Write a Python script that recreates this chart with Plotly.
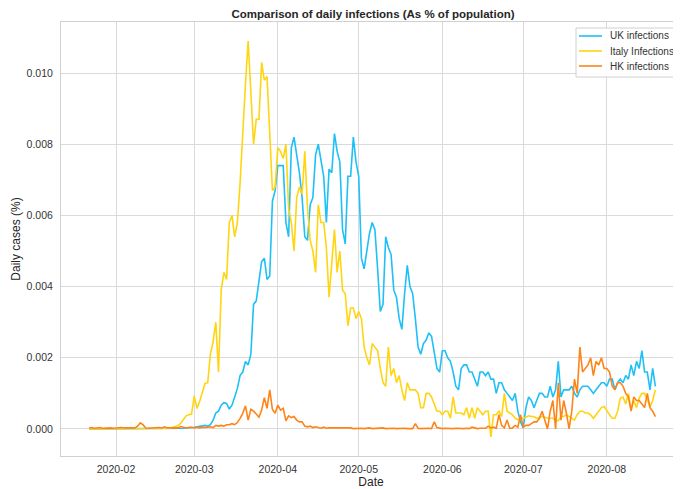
import pandas as pd
import plotly.graph_objects as go

# Daily new cases as % of population, one value per day from 2020-01-22
start_date = "2020-01-22"

uk_cases = [
    # Jan 22 - Feb 29
    0, 0, 0, 0, 0, 0, 0, 0, 0, 0,
    0, 0, 0, 0, 0, 0, 0, 0, 0, 0,
    0, 0, 0, 0, 0, 0, 0, 0, 0,
    0.0, 0.0, 0.00001, 0.00001, 0.00001, 0.00002,
    0.00002, 0.00003, 0.00003, 0.00004,
    # Mar
    0.00005, 0.00006, 0.00007, 0.00008, 0.0001, 0.00008, 0.00012, 0.00025, 0.00045, 0.0005, 0.00067,
    0.00074, 0.00072, 0.00056, 0.00067, 0.0009, 0.00114, 0.0015, 0.0016, 0.0019, 0.0018, 0.0021,
    0.0035, 0.0036, 0.0041, 0.0047, 0.0048, 0.0042, 0.0043, 0.0064, 0.0067, 0.0074,
    # Apr
    0.0074, 0.0074, 0.0058, 0.0054, 0.0079, 0.0082, 0.0077, 0.0072, 0.0065, 0.0054,
    0.0053, 0.0063, 0.0065, 0.0077, 0.008, 0.0076, 0.0071, 0.0058, 0.0073, 0.0072,
    0.0083, 0.0078, 0.0075, 0.0056, 0.0052, 0.0071, 0.0071, 0.0082, 0.0075, 0.0071,
    # May
    0.0048, 0.0045, 0.005, 0.0055, 0.0058, 0.0056, 0.0045, 0.0033, 0.0035, 0.0054,
    0.0051, 0.0049, 0.0039, 0.0037, 0.0031, 0.0028, 0.0038, 0.0046, 0.004, 0.0038,
    0.0031, 0.0023, 0.0021, 0.0024, 0.0025, 0.0027, 0.0026, 0.0022, 0.0017, 0.0016,
    # Jun
    0.0022, 0.0022, 0.002, 0.0019, 0.0016, 0.0012, 0.0011, 0.0017, 0.0018, 0.0018,
    0.0016, 0.0016, 0.0014, 0.0012, 0.0016, 0.0016, 0.0015, 0.0016, 0.0014, 0.0014,
    0.001, 0.0013, 0.0013, 0.0011, 0.001, 0.0009, 0.0008, 0.001, 0.0005, 0.0002,
    # Jul
    0.00003, 0.0006, 0.0009, 0.0008, 0.0006, 0.0008, 0.001, 0.001, 0.0009, 0.0009,
    0.0012, 0.0009, 0.0011, 0.0019, 0.0009, 0.0011, 0.0011, 0.0011, 0.0012, 0.001,
    0.0009, 0.0011, 0.0012, 0.0012, 0.0012, 0.0011, 0.001, 0.0011, 0.0012, 0.0013,
    # Aug 1 - 19
    0.0013, 0.0012, 0.0014, 0.0014, 0.0011, 0.0013, 0.0014, 0.0013, 0.0015, 0.0014,
    0.0018, 0.0015, 0.0019, 0.0017, 0.0022, 0.0016, 0.0016, 0.0011, 0.0017, 0.0012,
]

italy_cases = [
    # Jan 22 - Feb 29
    0, 0, 0, 0, 0, 0, 0, 0, 0, 0,
    0, 0, 0, 0, 0, 0, 0, 0, 0, 0,
    0, 0, 0, 0, 0, 0, 0, 0, 0, 0,
    0.00002, 0.00005, 0.00008, 0.0001, 0.00016, 0.00025, 0.00037, 0.0004, 0.00042,
    # Mar
    0.00093, 0.00058, 0.00077, 0.001, 0.00128, 0.0013, 0.0021, 0.00245, 0.003, 0.0016, 0.0039,
    0.0044, 0.0042, 0.0058, 0.006, 0.0054, 0.0058, 0.0069, 0.0084, 0.0097, 0.0109, 0.0093,
    0.008, 0.0087, 0.0087, 0.0103, 0.0098, 0.0099, 0.0084, 0.0067, 0.0068, 0.0079,
    # Apr
    0.0078, 0.0076, 0.008, 0.0062, 0.0058, 0.005, 0.0065, 0.0068, 0.0066, 0.0078,
    0.0062, 0.0053, 0.005, 0.0044, 0.0063, 0.0058, 0.0058, 0.0051, 0.0037, 0.0047,
    0.0056, 0.0044, 0.005, 0.0039, 0.0038, 0.0029, 0.0034, 0.0034, 0.0031, 0.0033,
    # May
    0.0031, 0.0023, 0.002, 0.0018, 0.0024, 0.0023, 0.0022, 0.0017, 0.0013, 0.0012,
    0.0023, 0.0015, 0.0017, 0.0013, 0.0015, 0.0011, 0.0008, 0.0013, 0.0011, 0.0011,
    0.0011, 0.001, 0.0006, 0.0006, 0.001, 0.001, 0.0009, 0.0007, 0.0005, 0.0005,
    # Jun
    0.0004, 0.0005, 0.0005, 0.0003, 0.0009, 0.00045, 0.00045, 0.00045, 0.0004, 0.0006,
    0.0003, 0.0006, 0.0003, 0.0006, 0.0005, 0.0004, 0.0005, 0.0005, -0.00022, 0.0004,
    0.0004, 0.0005, 0.00035, 0.001, 0.0005, 0.00045, 0.0004, 0.0003, 0.00026, 0.0003,
    # Jul
    0.0003, 0.00033, 0.00037, 0.00035, 0.00035, 0.0003, 0.00033, 0.00035, 0.00033, 0.0003,
    0.0003, 0.0003, 0.00025, 0.00023, 0.00035, 0.00035, 0.0004, 0.00035, 0.0003, 0.00025,
    0.0004, 0.0005, 0.0005, 0.00045, 0.00045, 0.0004, 0.0003, 0.0004, 0.0005, 0.0006,
    0.00063,
    # Aug 2 - 19
    0.0005, 0.0004, 0.0003, 0.0003, 0.0005, 0.00087, 0.0009, 0.0007, 0.001,
    0.00054, 0.0008, 0.0006, 0.00087, 0.001, 0.001, 0.0008, 0.00063, 0.0008, 0.0011,
]

hk_cases = [
    # Jan 22 - Feb 29
    0.00003, 0.00004, 0.00002, 0.00003, 0.00004, 0.00002, 0.00003, 0.00004, 0.00003, 0.00002,
    0.00003, 0.00002, 0.00004, 0.00003, 0.00003, 0.00005, 0.00004, 0.00003, 0.00008, 0.00017,
    0.00012, 0.00003, 0.00002, 0.00003, 0.00004, 0.00003, 0.00004, 0.00003, 0.00006, 0.00003,
    0.00003, 0.00004, 0.00002, 0.00003, 0.00007, 0.00004, 0.00003, 0.00004, 0.00005,
    # Mar
    0.00003, 0.00005, 0.00003, 0.00005, 0.00004, 0.00005, 0.00006, 0.00004, 0.0001, 0.00008,
    0.0001, 0.00008, 0.00012, 0.00012, 0.00015, 0.00012, 0.00018,
    0.0003, 0.00044, 0.00065, 0.00025, 0.00055, 0.0005, 0.00042, 0.00033, 0.00053, 0.00088,
    0.00058, 0.0011, 0.00055, 0.00044,
    # Apr
    0.00067, 0.00053, 0.00058, 0.00023, 0.00037, 0.00032,
    0.00035, 0.00025, 0.0002, 0.0002, 0.00008, 0.00006, 0.00008, 0.00004, 0.00006, 0.00005,
    0.00002, 0.00005, 0.00002, 0.00003, 0.00003, 0.00002, 0.00004, 0.00002, 0.00003, 0.00002,
    0.00002, 0.00003, 0.00001, 0.00002,
    # May
    0.00001, 0.00002, 0.00001, 0.00002, 0.00003, 0.00001,
    0.00002, 0.00001, 0.00002, 0.00003, 0.00001, 0.00002, 0.00001, 0.00002, 0.00001, 0.00002,
    0.00001, 0.00002, 0.00001, 0.00002, 0.00001, 0.00015, 0.00002, 0.00001, 0.00002, 0.00001,
    0.00002, 0.00001, 0.0002, 0.00004, 0.00002,
    # Jun
    0.00001, 0.00002, 0.00001, 0.00002, 0.00001,
    0.00002, 0.00001, 0.00002, 0.00001, 0.00002, 0.00001, 0.00005, 0.00002, 0.00001, 0.00002,
    0.00001, 0.00002, 0.00008, 0.00003, 0.00005, 0.00002, 0.0004, 0.0001, 0.00003, 0.00025,
    0.00002, 0.00003, 0.0001, 0.00005, 0.0004,
    # Jul
    0.00005, 0.0001, 0.0001, 0.00015, 0.0002, 0.0002, 0.0003, 0.0005, 0.00025, 0.0,
    0.0005, 0.0008, 0.0, 0.0013, 0.00025, 0.0008, 0.00045, 0.0, 0.0005, 0.0014,
    0.001, 0.0023, 0.0016, 0.0017, 0.0018, 0.002, 0.0015, 0.0019, 0.0018, 0.002,
    0.0017,
    # Aug 1 - 19
    0.0017, 0.0016, 0.0012, 0.0011, 0.0013, 0.0013, 0.0012, 0.001, 0.0009,
    0.0005, 0.0009, 0.0008, 0.0008, 0.0007, 0.0006, 0.001, 0.0006, 0.0005, 0.00035,
]

series_names = ["UK infections", "Italy Infections", "HK infections"]
series_colors = ["#1ec0f7", "#ffd512", "#ff8418"]

# The page body has an 8px margin, so the figure is drawn 8px smaller
FIG_W, FIG_H = 673, 481
MARGIN = dict(l=53, r=0, t=14, b=33)
PLOT_W = FIG_W - MARGIN["l"] - MARGIN["r"]
PLOT_H = FIG_H - MARGIN["t"] - MARGIN["b"]


def px_x(px: float) -> float:
    """Figure pixel x -> paper coordinate."""
    return (px - MARGIN["l"]) / PLOT_W


def px_y(py: float) -> float:
    """Figure pixel y (from top) -> paper coordinate."""
    return 1 - (py - MARGIN["t"]) / PLOT_H


def add_legend_box(fig: go.Figure) -> None:
    """matplotlib-style legend in the upper right corner."""
    fig.add_shape(
        type="rect", xref="paper", yref="paper",
        x0=px_x(568), x1=px_x(672), y0=px_y(69), y1=px_y(20),
        fillcolor="rgba(255,255,255,0.9)", line=dict(color="#d0d0d0", width=1),
        layer="above",
    )
    for i, (name, color) in enumerate(zip(series_names, series_colors)):
        y = px_y(28 + 15 * i)
        fig.add_shape(
            type="line", xref="paper", yref="paper",
            x0=px_x(571), x1=px_x(594), y0=y, y1=y,
            line=dict(color=color, width=1.6), layer="above",
        )
        fig.add_annotation(
            xref="paper", yref="paper", x=px_x(600), y=y,
            text=name, showarrow=False, xanchor="left", yanchor="middle",
            font=dict(size=10, color="#333333"),
        )


def build_figure() -> go.Figure:
    """Line chart comparing daily infections as a share of population."""
    n = len(uk_cases)
    assert len(italy_cases) == n and len(hk_cases) == n, (n, len(italy_cases), len(hk_cases))
    dates = pd.date_range(start_date, periods=n, freq="D")

    fig = go.Figure()
    for name, values, color in zip(series_names, [uk_cases, italy_cases, hk_cases], series_colors):
        fig.add_trace(go.Scatter(
            x=dates,
            y=values,
            mode="lines",
            name=name,
            line=dict(color=color, width=1.6),
        ))

    axis_style = dict(
        showgrid=True,
        gridcolor="#dadada",
        gridwidth=1,
        showline=True,
        linecolor="#d0d0d0",
        linewidth=1,
        mirror=True,
        zeroline=False,
        ticks="outside",
        tickcolor="rgba(0,0,0,0)",
        tickfont=dict(size=10.5, color="#333333"),
        title_font=dict(size=12, color="#262626"),
    )

    fig.update_layout(
        width=FIG_W,
        height=FIG_H,
        margin=MARGIN,
        paper_bgcolor="white",
        plot_bgcolor="white",
        font=dict(family="Liberation Sans, Arial, sans-serif", color="#262626"),
        title=dict(
            text="<b>Comparison of daily infections (As % of population)</b>",
            x=365 / FIG_W, xanchor="center",
            y=1 - 5.5 / FIG_H, yanchor="middle",
            font=dict(size=11.5, color="#262626"),
        ),
        showlegend=False,
    )
    fig.update_xaxes(
        axis_style,
        title_text="Date",
        title_standoff=3,
        range=[dates[0] - pd.Timedelta(days=10.4), dates[-1] + pd.Timedelta(days=9.5)],
        dtick="M1",
        tickformat="%Y-%m",
        ticklen=3,
    )
    fig.update_yaxes(
        axis_style,
        title_text="Daily cases (%)",
        title_standoff=3,
        range=[-0.000759, 0.011434],
        tickvals=[0, 0.002, 0.004, 0.006, 0.008, 0.010],
        tickformat=".3f",
        ticklen=5,
    )
    add_legend_box(fig)
    return fig


fig = build_figure()
fig.write_html("out.html")
